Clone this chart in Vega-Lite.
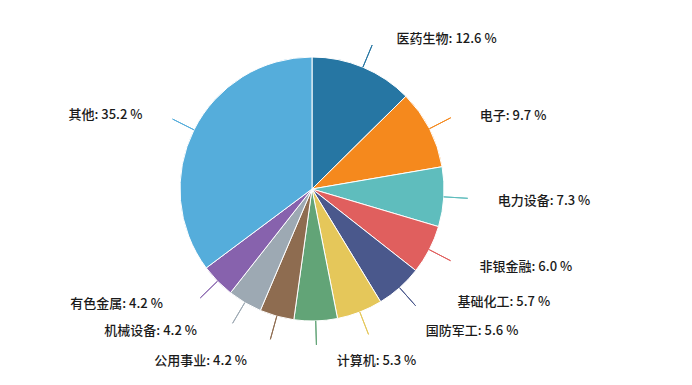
{
  "$schema": "https://vega.github.io/schema/vega-lite/v6.json",
  "width": 624,
  "height": 378,
  "padding": 0,
  "autosize": {"type": "none"},
  "background": "white",
  "config": {"view": {"stroke": null}, "text": {"font": "Noto Sans CJK SC", "fontSize": 13, "fontWeight": 500, "baseline": "middle", "radius": 165}},
  "data": {
    "values": [
      {"name": "医药生物", "share": 12.6, "label": "医药生物: 12.6 %"},
      {"name": "电子", "share": 9.7, "label": "电子: 9.7 %"},
      {"name": "电力设备", "share": 7.3, "label": "电力设备: 7.3 %"},
      {"name": "非银金融", "share": 6.0, "label": "非银金融: 6.0 %"},
      {"name": "基础化工", "share": 5.7, "label": "基础化工: 5.7 %"},
      {"name": "国防军工", "share": 5.6, "label": "国防军工: 5.6 %"},
      {"name": "计算机", "share": 5.3, "label": "计算机: 5.3 %"},
      {"name": "公用事业", "share": 4.2, "label": "公用事业: 4.2 %"},
      {"name": "机械设备", "share": 4.2, "label": "机械设备: 4.2 %"},
      {"name": "有色金属", "share": 4.2, "label": "有色金属: 4.2 %"},
      {"name": "其他", "share": 35.2, "label": "其他: 35.2 %"}
    ]
  },
  "transform": [{"window": [{"op": "row_number", "as": "idx"}]}],
  "encoding": {
    "theta": {"field": "share", "type": "quantitative", "stack": true},
    "order": {"field": "idx", "type": "quantitative"},
    "color": {
      "field": "name",
      "type": "nominal",
      "legend": null,
      "scale": {
        "domain": ["医药生物", "电子", "电力设备", "非银金融", "基础化工", "国防军工", "计算机", "公用事业", "机械设备", "有色金属", "其他"],
        "range": ["#2676A3", "#F5891D", "#5FBDBD", "#E05F5E", "#4A588C", "#E5C75A", "#62A477", "#8E6C50", "#9DA9B3", "#8762AD", "#55ADDB"]
      }
    }
  },
  "layer": [
    {"mark": {"type": "arc", "radius": 132, "stroke": "white", "strokeWidth": 1}},
    {"mark": {"type": "arc", "radius": 156, "radius2": 132, "padAngle": 3.1416, "filled": false, "strokeWidth": 1}},
    {
      "mark": {"type": "text", "align": "left", "dx": 21, "dy": 2},
      "encoding": {
        "color": {"value": "#1a1a1a"},
        "text": {"condition": {"test": "indexof(['医药生物','电子','电力设备','非银金融'], datum.name) >= 0", "field": "label"}, "value": ""}
      }
    },
    {
      "mark": {"type": "text", "align": "left", "dx": 20, "dy": 7},
      "encoding": {
        "color": {"value": "#1a1a1a"},
        "text": {"condition": {"test": "datum.name === '计算机'", "field": "label"}, "value": ""}
      }
    },
    {
      "mark": {"type": "text", "align": "left", "dx": 36, "dy": -10},
      "encoding": {
        "color": {"value": "#1a1a1a"},
        "text": {"condition": {"test": "datum.name === '基础化工'", "field": "label"}, "value": ""}
      }
    },
    {
      "mark": {"type": "text", "align": "left", "dx": 54, "dy": -12},
      "encoding": {
        "color": {"value": "#1a1a1a"},
        "text": {"condition": {"test": "datum.name === '国防军工'", "field": "label"}, "value": ""}
      }
    },
    {
      "mark": {"type": "text", "align": "right", "dx": -22, "dy": 0},
      "encoding": {
        "color": {"value": "#1a1a1a"},
        "text": {"condition": {"test": "datum.name === '其他'", "field": "label"}, "value": ""}
      }
    },
    {
      "mark": {"type": "text", "align": "right", "dx": -21, "dy": 13},
      "encoding": {
        "color": {"value": "#1a1a1a"},
        "text": {"condition": {"test": "datum.name === '公用事业'", "field": "label"}, "value": ""}
      }
    },
    {
      "mark": {"type": "text", "align": "right", "dx": -31, "dy": 0},
      "encoding": {
        "color": {"value": "#1a1a1a"},
        "text": {"condition": {"test": "indexof(['机械设备','有色金属'], datum.name) >= 0", "field": "label"}, "value": ""}
      }
    }
  ]
}
